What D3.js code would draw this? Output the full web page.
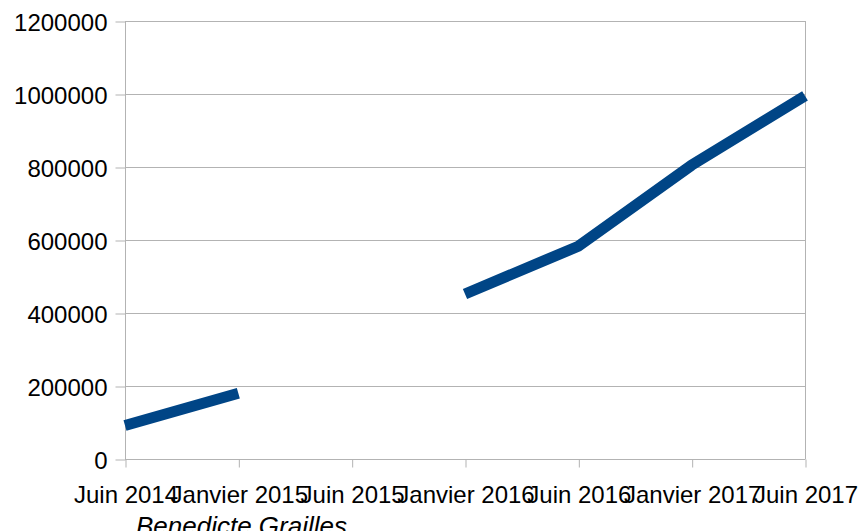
<!DOCTYPE html>
<html>
<head>
<meta charset="utf-8">
<script src="https://cdn.jsdelivr.net/npm/d3@7"></script>
<style>
  body { margin: 0; background: #fff; }
  text { font-family: "Liberation Sans", Arial, sans-serif; }
</style>
</head>
<body>
<svg id="chart" width="862" height="531"></svg>
<script>
var categories = ["Juin 2014", "Janvier 2015", "Juin 2015", "Janvier 2016", "Juin 2016", "Janvier 2017", "Juin 2017"];
var values = [92000, 180000, null, 452000, 583000, 805000, 995000];
var yTicks = [0, 200000, 400000, 600000, 800000, 1000000, 1200000];
var author = "Benedicte Grailles";

var svg = d3.select("#chart"),
  margin = {top: 21, right: 57, bottom: 72, left: 125},
  width = +svg.attr("width") - margin.left - margin.right,
  height = +svg.attr("height") - margin.top - margin.bottom,
  g = svg.append("g").attr("transform", "translate(" + margin.left + "," + margin.top + ")");

var x = d3.scalePoint()
  .domain(categories)
  .range([0, width]);

var y = d3.scaleLinear()
  .domain([0, 1200000])
  .range([height, 0]);

// gridlines
g.append("g")
  .selectAll("line")
  .data(yTicks)
  .enter().append("line")
  .attr("x1", 0)
  .attr("x2", width)
  .attr("y1", function(d) { return y(d) + 0.5; })
  .attr("y2", function(d) { return y(d) + 0.5; })
  .attr("stroke", "#b3b3b3")
  .attr("stroke-width", 1);

// y axis
var yAxis = g.append("g")
  .attr("transform", "translate(0.5,0.5)")
  .call(d3.axisLeft(y).tickValues(yTicks).tickSize(10).tickPadding(8).tickFormat(d3.format("d")));
yAxis.select(".domain").attr("stroke", "#b3b3b3").attr("d", "M0,0V" + height);
yAxis.selectAll(".tick line").attr("stroke", "#b3b3b3");
yAxis.selectAll(".tick text").attr("fill", "#000").style("font-size", "24px").attr("dy", "0.36em");

// x axis
var xAxis = g.append("g")
  .attr("transform", "translate(0.5," + (height + 0.5) + ")")
  .call(d3.axisBottom(x).tickSize(8));
xAxis.select(".domain").attr("stroke", "#b3b3b3").attr("d", "M0,0H" + width);
xAxis.selectAll(".tick line").attr("stroke", "#b3b3b3");
xAxis.selectAll(".tick text")
  .attr("fill", "#000")
  .style("font-size", "24px")
  .attr("y", 43)
  .attr("dy", 0);

// vertical border on right
g.append("line")
  .attr("x1", width + 0.5).attr("x2", width + 0.5)
  .attr("y1", 0).attr("y2", height)
  .attr("stroke", "#b3b3b3");

var line = d3.line()
  .defined(function(d) { return d !== null; })
  .x(function(d, i) { return x(categories[i]); })
  .y(function(d) { return y(d); });

g.append("path")
  .datum(values)
  .attr("fill", "none")
  .attr("stroke", "#004586")
  .attr("stroke-width", 11)
  .attr("d", line);

// author credit, partly cut off by the bottom edge
svg.append("text")
  .attr("x", 136)
  .attr("y", 535)
  .style("font-size", "26px")
  .style("font-style", "italic")
  .attr("fill", "#000")
  .text(author);
</script>
</body>
</html>
